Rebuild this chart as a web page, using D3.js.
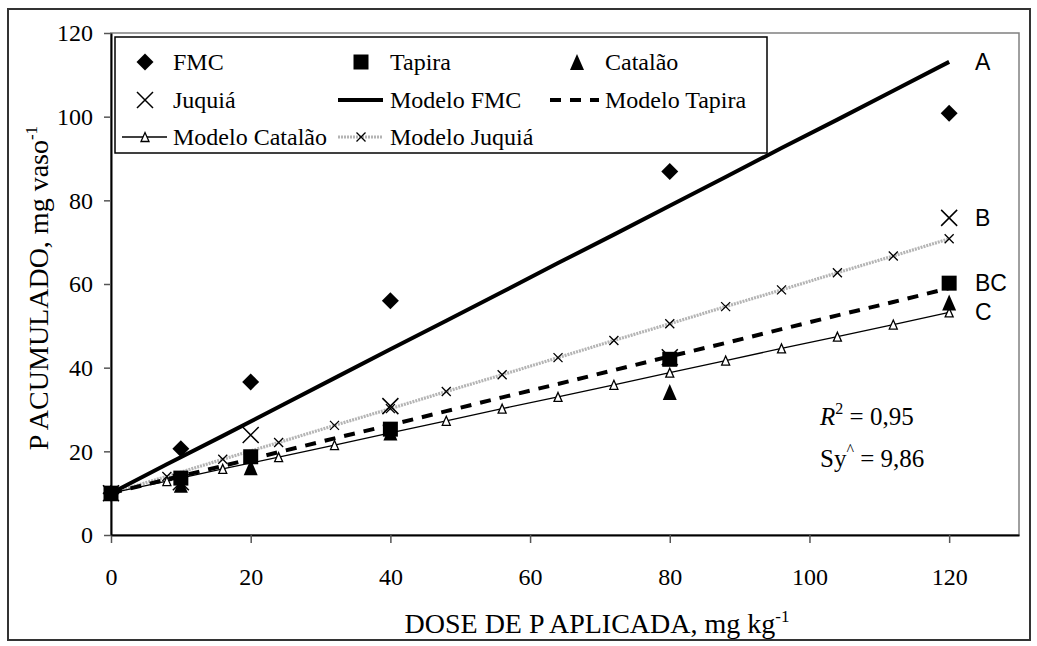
<!DOCTYPE html>
<meta charset="utf-8">
<style>
body { margin: 0; background: #fff; }
text { font-family: "Liberation Serif", "Times New Roman", serif; fill: #000; }
.tick text { font-size: 24px; }
</style>
<svg width="1037" height="646"></svg>
<script src="https://d3js.org/d3.v7.min.js"></script>
<script>
// observed values
var doses = [0, 10, 20, 40, 80, 120];
var fmc = [10, 20.6, 36.6, 56, 86.9, 100.8];
var tapira = [10, 13.6, 18.7, 25.3, 42, 60.2];
var catalao = [10, 12, 16.2, 24.5, 34.2, 55.6];
var juquia = [10, 12.6, 23.9, 30.8, 42.5, 75.8];

// fitted models
var modelDoses = [0, 8, 16, 24, 32, 40, 48, 56, 64, 72, 80, 88, 96, 104, 112, 120];
var modeloFmc = [10, 16.9, 23.7, 30.6, 37.5, 44.4, 51.2, 58.1, 65, 71.8, 78.7, 85.6, 92.5, 99.3, 106.2, 113.1];
var modeloTapira = [10, 13.3, 16.5, 19.8, 23.1, 26.3, 29.6, 32.9, 36.1, 39.4, 42.7, 45.9, 49.2, 52.5, 55.7, 59];
var modeloCatalao = [10, 12.9, 15.8, 18.6, 21.5, 24.4, 27.3, 30.2, 33, 35.9, 38.8, 41.7, 44.6, 47.4, 50.3, 53.2];
var modeloJuquia = [10, 14, 18.1, 22.1, 26.2, 30.2, 34.3, 38.3, 42.4, 46.5, 50.5, 54.6, 58.6, 62.7, 66.7, 70.8];

var xTicks = [0, 20, 40, 60, 80, 100, 120];
var yTicks = [0, 20, 40, 60, 80, 100, 120];
var groupLabels = ["A", "B", "BC", "C"];
var groupAt = [113.1, 75.8, 60.2, 53.2];

var svg = d3.select("svg");
var x = d3.scaleLinear().domain([0, 130]).range([111, 1019]);
var y = d3.scaleLinear().domain([0, 120]).range([535, 33]);

// outer frame
svg.append("rect").attr("x", 8).attr("y", 9).attr("width", 1022).attr("height", 631)
  .attr("fill", "none").attr("stroke", "#333").attr("stroke-width", 2);
// plot area border
svg.append("rect").attr("x", 111).attr("y", 33).attr("width", 908).attr("height", 502)
  .attr("fill", "none").attr("stroke", "#808080").attr("stroke-width", 1.5);

var xAxis = svg.append("g").attr("transform", "translate(0,535)")
  .call(d3.axisBottom(x).tickValues(xTicks).tickSize(8).tickSizeOuter(0).tickPadding(25));
var yAxis = svg.append("g").attr("transform", "translate(111,0)")
  .call(d3.axisLeft(y).tickValues(yTicks).tickSize(7).tickSizeOuter(0).tickPadding(11));
[xAxis, yAxis].forEach(function(a) {
  a.select(".domain").attr("stroke", "#000").attr("stroke-width", 2);
  a.selectAll(".tick line").attr("stroke", "#555").attr("stroke-width", 1.5);
  a.selectAll(".tick text").style("font-family", "Liberation Serif");
});

// axis titles
var xt = svg.append("text").attr("x", 597).attr("y", 633).attr("text-anchor", "middle")
  .style("font-size", "28px");
xt.append("tspan").text("DOSE DE P APLICADA, mg kg");
xt.append("tspan").attr("dy", -11).style("font-size", "17px").text("-1");

var yt = svg.append("text").attr("transform", "translate(48,288) rotate(-90)")
  .attr("text-anchor", "middle").style("font-size", "28px");
yt.append("tspan").text("P ACUMULADO, mg vaso");
yt.append("tspan").attr("dy", -11).style("font-size", "17px").text("-1");

function pts(xs, ys) { return xs.map(function(d, i) { return [d, ys[i]]; }); }
var line = d3.line().x(function(d) { return x(d[0]); }).y(function(d) { return y(d[1]); });

// model lines
svg.append("path").datum(pts(modelDoses, modeloJuquia)).attr("d", line)
  .attr("fill", "none").attr("stroke", "#b4b4b4").attr("stroke-width", 3.2).attr("stroke-dasharray", "2,1");
svg.append("path").datum(pts(modelDoses, modeloCatalao)).attr("d", line)
  .attr("fill", "none").attr("stroke", "#000").attr("stroke-width", 1.3);
svg.append("path").datum(pts(modelDoses, modeloTapira)).attr("d", line)
  .attr("fill", "none").attr("stroke", "#000").attr("stroke-width", 4).attr("stroke-dasharray", "11,9");
svg.append("path").datum(pts(modelDoses, modeloFmc)).attr("d", line)
  .attr("fill", "none").attr("stroke", "#000").attr("stroke-width", 4);

// marker shapes
function cross(s) { return "M" + -s + "," + -s + "L" + s + "," + s + "M" + -s + "," + s + "L" + s + "," + -s; }
function tri(w, h) { return "M0," + (-h / 2) + "L" + (w / 2) + "," + (h / 2) + "L" + (-w / 2) + "," + (h / 2) + "Z"; }
var diamond = d3.symbol().type(d3.symbolSquare).size(144)();
var square = d3.symbol().type(d3.symbolSquare).size(225)();

function markers(data, draw) {
  var g = svg.append("g");
  data.forEach(function(d) {
    draw(g.append("path").attr("transform", "translate(" + x(d[0]) + "," + y(d[1]) + ")"));
  });
}
var drawSmallX = function(p) { p.attr("d", cross(4.5)).attr("stroke", "#000").attr("stroke-width", 1.3).attr("fill", "none"); };
var drawOpenTri = function(p) { p.attr("d", tri(8, 9)).attr("stroke", "#000").attr("stroke-width", 1.3).attr("fill", "#fff"); };
var drawBigX = function(p) { p.attr("d", cross(8)).attr("stroke", "#000").attr("stroke-width", 1.5).attr("fill", "none"); };
var drawTri = function(p) { p.attr("d", tri(14, 16)).attr("fill", "#000"); };
var drawSquare = function(p) { p.attr("d", square).attr("fill", "#000"); };
var drawDiamond = function(p) { p.attr("d", diamond).attr("fill", "#000").attr("transform", p.attr("transform") + " rotate(45)"); };

markers(pts(modelDoses, modeloJuquia), drawSmallX);
markers(pts(modelDoses, modeloCatalao), drawOpenTri);
markers(pts(doses, fmc), drawDiamond);
markers(pts(doses, juquia), drawBigX);
markers(pts(doses, catalao), drawTri);
markers(pts(doses, tapira), drawSquare);

// group letters
svg.selectAll(".grp").data(groupLabels).enter().append("text")
  .attr("x", 975).attr("y", function(d, i) { return y(groupAt[i]) + 8; })
  .style("font-family", "Liberation Sans").style("font-size", "23px").text(function(d) { return d; });

// statistics
var r2 = svg.append("text").attr("x", 820).attr("y", 425).style("font-size", "25px");
r2.append("tspan").style("font-style", "italic").text("R");
r2.append("tspan").attr("dy", -11).style("font-size", "16px").text("2");
r2.append("tspan").attr("dy", 11).text(" = 0,95");
var sy = svg.append("text").attr("x", 820).attr("y", 467).style("font-size", "25px");
sy.append("tspan").text("Sy");
sy.append("tspan").attr("dy", -12).style("font-size", "16px").text("^");
sy.append("tspan").attr("dy", 12).text(" = 9,86");

// legend
var lg = svg.append("g");
lg.append("rect").attr("x", 115).attr("y", 37).attr("width", 652).attr("height", 116)
  .attr("fill", "#fff").attr("stroke", "#000").attr("stroke-width", 1.5);
var rows = [62, 100, 137];
var items = [
  { name: "FMC", col: 0, row: 0, mark: drawDiamond },
  { name: "Tapira", col: 1, row: 0, mark: drawSquare },
  { name: "Catalão", col: 2, row: 0, mark: drawTri },
  { name: "Juquiá", col: 0, row: 1, mark: drawBigX },
  { name: "Modelo FMC", col: 1, row: 1, line: { stroke: "#000", w: 4 } },
  { name: "Modelo Tapira", col: 2, row: 1, line: { stroke: "#000", w: 4, dash: "11,9" } },
  { name: "Modelo Catalão", col: 0, row: 2, line: { stroke: "#000", w: 1.3 }, mark: drawOpenTri },
  { name: "Modelo Juquiá", col: 1, row: 2, line: { stroke: "#b4b4b4", w: 3.2, dash: "2,1" }, mark: drawSmallX }
];
var colMark = [145, 361, 577];
var colText = [173, 390, 605];
items.forEach(function(it) {
  var cx = colMark[it.col], cy = rows[it.row];
  if (it.line) {
    var x0 = it.col === 2 ? 550 : cx - 23;
    lg.append("line").attr("x1", x0).attr("x2", cx + 22).attr("y1", cy).attr("y2", cy)
      .attr("stroke", it.line.stroke).attr("stroke-width", it.line.w)
      .attr("stroke-dasharray", it.line.dash || null);
  }
  if (it.mark) it.mark(lg.append("path").attr("transform", "translate(" + cx + "," + cy + ")"));
  lg.append("text").attr("x", colText[it.col]).attr("y", cy + 8).style("font-size", "24px").text(it.name);
});
</script>
